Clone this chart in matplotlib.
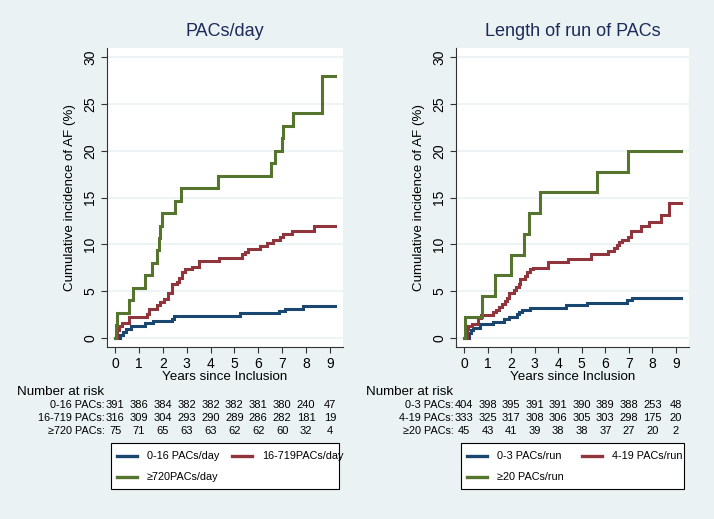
import matplotlib.pyplot as plt
import matplotlib.transforms as mtransforms
from matplotlib.lines import Line2D
from matplotlib.patches import Rectangle

plt.rcParams['font.family'] = ['Liberation Sans', 'DejaVu Sans']

BG = '#EAF2F3'
NAVY = '#1a476f'
MAROON = '#90353b'
GREEN = '#55752f'

# ---- left panel: PACs/day ----
day_low_x = [0, 0.21, 0.31, 0.46, 0.67, 1.26, 1.6, 2.37, 2.47, 5.23, 6.88, 7.11, 7.88, 9.2]
day_low_y = [0, 0.3, 0.6, 0.9, 1.3, 1.6, 1.8, 2.0, 2.3, 2.6, 2.9, 3.1, 3.4, 3.4]
day_mid_x = [0, 0.1, 0.17, 0.28, 0.6, 1.32, 1.42, 1.74, 1.88, 2.05, 2.23, 2.37, 2.58, 2.68,
             2.79, 2.93, 3.21, 3.51, 4.37, 5.3, 5.44, 5.58, 6.07, 6.35, 6.6, 6.9, 7.04,
             7.43, 8.33, 9.2]
day_mid_y = [0, 0.8, 1.3, 1.6, 2.2, 2.5, 3.1, 3.5, 3.8, 4.1, 4.8, 5.7, 6.0, 6.4,
             7.0, 7.3, 7.6, 8.2, 8.5, 8.9, 9.2, 9.5, 9.8, 10.1, 10.4, 10.8, 11.1,
             11.4, 12.0, 12.0]
day_high_x = [0, 0.04, 0.1, 0.59, 0.74, 1.26, 1.56, 1.74, 1.83, 1.87, 1.95, 2.51, 2.76,
              4.32, 6.54, 6.68, 7.0, 7.04, 7.46, 8.66, 9.2]
day_high_y = [0, 1.33, 2.67, 4.0, 5.33, 6.67, 8.0, 9.33, 10.67, 12.0, 13.33, 14.67, 16.0,
              17.33, 18.67, 20.0, 21.33, 22.67, 24.0, 28.0, 28.0]

# ---- right panel: length of run ----
run_low_x = [0, 0.21, 0.28, 0.4, 0.68, 1.25, 1.68, 1.89, 2.25, 2.35, 2.46, 2.82, 4.31,
             5.23, 6.91, 7.15, 9.2]
run_low_y = [0, 0.5, 0.8, 1.0, 1.5, 1.7, 2.0, 2.2, 2.5, 2.7, 3.0, 3.2, 3.5,
             3.7, 4.0, 4.2, 4.2]
run_mid_x = [0, 0.11, 0.18, 0.33, 0.61, 0.71, 1.25, 1.37, 1.47, 1.61, 1.75, 1.82, 1.93,
             2.11, 2.22, 2.32, 2.39, 2.6, 2.67, 2.79, 2.93, 3.56, 4.41, 5.38, 6.12, 6.37,
             6.51, 6.59, 6.69, 6.97, 7.08, 7.51, 7.87, 8.36, 8.68, 9.2]
run_mid_y = [0, 0.9, 1.2, 1.5, 2.1, 2.4, 2.7, 3.0, 3.3, 3.6, 3.9, 4.2, 4.8,
             5.1, 5.4, 5.7, 6.3, 6.6, 7.0, 7.3, 7.5, 8.1, 8.4, 9.0, 9.3, 9.6,
             9.9, 10.2, 10.5, 10.8, 11.4, 12.0, 12.4, 13.1, 14.4, 14.4]
run_high_x = [0, 0.04, 0.75, 1.32, 2.0, 2.53, 2.77, 3.21, 5.63, 6.97, 9.2]
run_high_y = [0, 2.22, 4.44, 6.67, 8.89, 11.11, 13.33, 15.56, 17.78, 20.0, 20.0]

risk_years = list(range(10))
day_risk_labels = ['0-16 PACs:', '16-719 PACs:', '\u2265720 PACs:']
day_risk = [[391, 386, 384, 382, 382, 382, 381, 380, 240, 47],
            [316, 309, 304, 293, 290, 289, 286, 282, 181, 19],
            [75, 71, 65, 63, 63, 62, 62, 60, 32, 4]]
run_risk_labels = ['0-3 PACs:', '4-19 PACs:', '\u226520 PACs:']
run_risk = [[404, 398, 395, 391, 391, 390, 389, 388, 253, 48],
            [333, 325, 317, 308, 306, 305, 303, 298, 175, 20],
            [45, 43, 41, 39, 38, 38, 37, 27, 20, 2]]

day_legend = ['0-16 PACs/day', '16-719PACs/day', '\u2265720PACs/day']
run_legend = ['0-3 PACs/run', '4-19 PACs/run', '\u226520 PACs/run']

W, H = 714, 519
fig = plt.figure(figsize=(W / 100, H / 100), dpi=100, facecolor=BG)


def fx(p):
    return p / W


def fy(p):
    return 1 - p / H


def px_axes(x0, y0, x1, y1):
    return fig.add_axes([fx(x0), fy(y1), (x1 - x0) / W, (y1 - y0) / H])


def panel(ax, title, series, labels, risk, leg_labels, leg_box, leg_cols, nar_x):
    for (x, y), c in zip(series, [NAVY, MAROON, GREEN]):
        ax.step(x, y, where='post', color=c, lw=2.2, solid_joinstyle='miter')
    ax.set_facecolor('white')
    ax.set_xlim(-0.34, 9.55)
    ax.set_ylim(-1.0, 31.0)
    ax.set_yticks(range(0, 31, 5))
    ax.set_xticks(range(10))
    ax.yaxis.grid(True, color=BG, lw=1.2)
    ax.set_axisbelow(True)
    for s in ['top', 'right']:
        ax.spines[s].set_visible(False)
    for s in ['left', 'bottom']:
        ax.spines[s].set_color('#333333')
        ax.spines[s].set_linewidth(0.8)
    ax.tick_params(direction='out', length=4, width=0.8, labelsize=10, color='#333333',
                   pad=3)
    plt.setp(ax.get_yticklabels(), rotation=90, va='center')
    ax.set_ylabel('Cumulative incidence of AF (%)', fontsize=9.6, labelpad=5)
    ax.set_xlabel('Years since Inclusion', fontsize=9.6, labelpad=0)
    ax.set_title(title, fontsize=13, color='#1c2b5a', pad=9)

    # number at risk table
    tr = mtransforms.blended_transform_factory(ax.transData, fig.transFigure)
    fig.text(fx(nar_x), fy(392), 'Number at risk', fontsize=9.6, va='center')
    for r, (lab, vals) in enumerate(zip(labels, risk)):
        yy = fy(405 + 13 * r)
        ax.text(-0.44, yy, lab, transform=tr, ha='right', va='center', fontsize=7.8)
        for xv, v in zip(risk_years, vals):
            ax.text(xv, yy, str(v), transform=tr, ha='center', va='center', fontsize=8)

    # legend box
    x0, y0, x1, y1 = leg_box
    fig.add_artist(Rectangle((fx(x0), fy(y1)), (x1 - x0) / W, (y1 - y0) / H,
                             transform=fig.transFigure, facecolor='white',
                             edgecolor='black', lw=0.8))
    spots = [(leg_cols[0], 456), (leg_cols[1], 456), (leg_cols[0], 477)]
    for (hx, hy), c, lab in zip(spots, [NAVY, MAROON, GREEN], leg_labels):
        fig.add_artist(Line2D([fx(hx), fx(hx + 20)], [fy(hy), fy(hy)],
                              transform=fig.transFigure, color=c, lw=2.4))
        fig.text(fx(hx + 30), fy(hy), lab, fontsize=7.8, va='center')


ax1 = px_axes(107, 48, 343, 347)
panel(ax1, 'PACs/day',
      [(day_low_x, day_low_y), (day_mid_x, day_mid_y), (day_high_x, day_high_y)],
      day_risk_labels, day_risk, day_legend, (111, 443, 339, 489), (117, 232), 17)

ax2 = px_axes(456, 48, 689, 347)
panel(ax2, 'Length of run of PACs',
      [(run_low_x, run_low_y), (run_mid_x, run_mid_y), (run_high_x, run_high_y)],
      run_risk_labels, run_risk, run_legend, (461, 443, 684, 489), (467, 582), 366)

fig.savefig('out.png', dpi=100, facecolor=BG)
